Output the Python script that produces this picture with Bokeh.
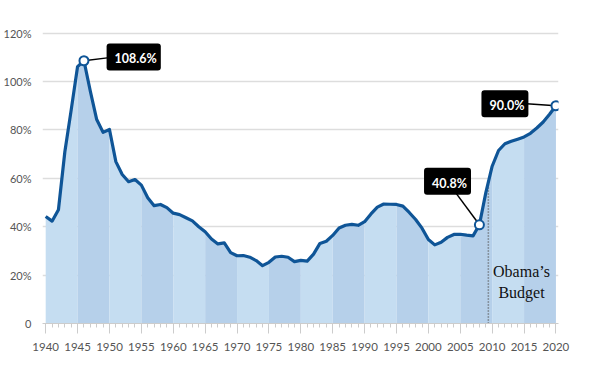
import numpy as np
from bokeh.plotting import figure
from bokeh.models import Label, SingleIntervalTicker, FixedTicker, Range1d
from bokeh.core.properties import value
from bokeh.embed import file_html
from bokeh.resources import INLINE

# ---- data ----
years = list(range(1940, 2021))
debt_pct = [
    44.2, 42.3, 47.0, 70.9, 88.3, 106.2, 108.6, 96.0, 84.3, 79.0,   # 1940-1949
    80.2, 66.9, 61.6, 58.6, 59.5, 57.2, 52.0, 48.7, 49.2, 47.9,     # 1950-1959
    45.6, 45.0, 43.7, 42.4, 40.0, 37.9, 34.9, 32.9, 33.3, 29.3,     # 1960-1969
    28.0, 28.1, 27.4, 26.0, 23.9, 25.3, 27.5, 27.8, 27.4, 25.6,     # 1970-1979
    26.1, 25.8, 28.7, 33.1, 34.0, 36.4, 39.5, 40.6, 41.0, 40.6,     # 1980-1989
    42.1, 45.3, 48.1, 49.4, 49.3, 49.2, 48.5, 45.9, 43.0, 39.4,     # 1990-1999
    34.7, 32.5, 33.6, 35.6, 36.8, 36.9, 36.5, 36.2, 40.8, 54.0,     # 2000-2009
    65.0, 71.5, 74.3, 75.3, 76.2, 77.1, 78.6, 80.8, 83.3, 86.5,     # 2010-2019
    90.0,                                                           # 2020
]
y_ticks = [0, 20, 40, 60, 80, 100, 120]
y_tick_labels = ["0", "20%", "40%", "60%", "80%", "100%", "120%"]
highlight_years = [1946, 2008, 2020]
highlight_labels = ["108.6%", "40.8%", "90.0%"]
budget_start = 2009.4
budget_text = ["Obama\u2019s", "Budget"]

yrs = np.array(years, dtype=float)
vals = np.array(debt_pct, dtype=float)

LIGHT = "#c5ddf1"
DARK = "#b6d0ea"
LINE = "#0f5597"
TICKFONT = "Lato"

p = figure(width=577, height=356, min_border_left=41, min_border_top=23,
           min_border_right=19, min_border_bottom=33,
           x_range=Range1d(1939.5, 2020.4), y_range=Range1d(0, 124),
           output_backend="svg", toolbar_location=None)
p.outline_line_color = None
p.background_fill_color = "white"

# alternating 5-year bands under the curve
for i, start in enumerate(range(1940, 2020, 5)):
    m = (yrs >= start) & (yrs <= start + 5)
    p.varea(x=yrs[m], y1=0, y2=vals[m], fill_color=LIGHT if i % 2 == 0 else DARK)

# budget divider (dotted)
top = float(np.interp(budget_start, yrs, vals))
p.segment(x0=[budget_start], y0=[0], x1=[budget_start], y1=[top],
          line_color="#555555", line_width=1.5, line_dash="1 2")

# main line
p.line(yrs, vals, line_color=LINE, line_width=3.2, line_join="round")

# callout connectors
hv = [float(vals[years.index(y)]) for y in highlight_years]
box_pos = [(1953.8, 110.2), (2003.0, 58.8), (2012.0, 90.8)]
conn_end = [(1950.3, 110.0), (2004.3, 54.0), (2015.4, 90.8)]
p.segment(x0=highlight_years, y0=hv, x1=[c[0] for c in conn_end], y1=[c[1] for c in conn_end],
          line_color="black", line_width=1.5)

p.scatter(highlight_years, hv, size=9, marker="circle", fill_color="white",
          line_color=LINE, line_width=2)

for (bx, by), txt in zip(box_pos, highlight_labels):
    p.add_layout(Label(x=bx, y=by, text=txt, text_align="center", text_baseline="middle",
                       text_color="white", text_font=TICKFONT, text_font_size="12.5px",
                       text_font_style="bold",
                       background_fill_color="black", padding=(8, 4, 8, 4), border_radius=3))

# Obama's Budget label
p.text(x=[2014.6, 2014.6], y=[21.6, 13.0], text=budget_text, text_align="center",
       text_baseline="middle", text_color="#111111",
       text_font=value("Liberation Serif"), text_font_size="16px")

# axes
p.xaxis.ticker = SingleIntervalTicker(interval=5, num_minor_ticks=5)
p.xaxis.axis_line_color = "#cccccc"
p.xaxis.major_tick_line_color = "#cccccc"
p.xaxis.minor_tick_line_color = "#cccccc"
p.xaxis.major_tick_out = 10
p.xaxis.major_tick_in = 0
p.xaxis.minor_tick_out = 4
p.xaxis.minor_tick_in = 0
p.xaxis.major_label_standoff = 9
p.xaxis.major_label_text_font = TICKFONT
p.xaxis.major_label_text_font_size = "11.5px"
p.xaxis.major_label_text_color = "#555555"

p.yaxis.ticker = FixedTicker(ticks=y_ticks)
p.yaxis.major_label_overrides = {t: l for t, l in zip(y_ticks, y_tick_labels)}
p.yaxis.axis_line_color = None
p.yaxis.major_tick_line_color = None
p.yaxis.minor_tick_line_color = None
p.yaxis.major_label_standoff = 5
p.yaxis.major_label_text_font = TICKFONT
p.yaxis.major_label_text_font_size = "11px"
p.yaxis.major_label_text_color = "#555555"

p.xgrid.grid_line_color = None
p.ygrid.grid_line_color = "#dddddd"
p.ygrid.grid_line_width = 1.5
p.ygrid.ticker = FixedTicker(ticks=[20, 40, 60, 80, 100, 120])

open("out.html", "w").write(file_html(p, INLINE))
